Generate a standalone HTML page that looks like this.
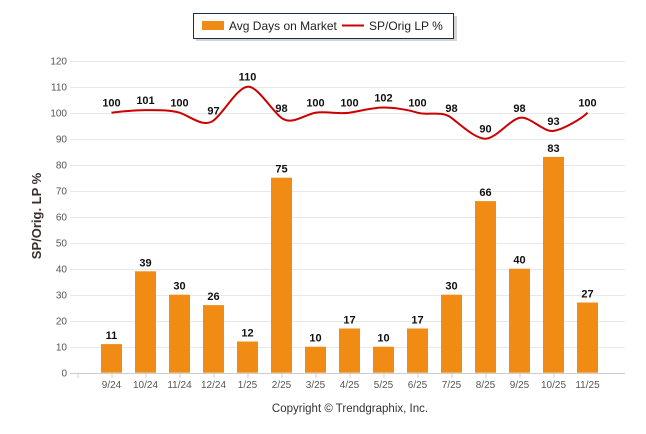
<!DOCTYPE html>
<html><head><meta charset="utf-8"><style>
body{margin:0;background:#fff;font-family:"Liberation Sans",Arial,sans-serif}
svg{display:block}
</style></head><body>
<svg id="c" width="646" height="434">
<g>
<rect x="196" y="16" width="261" height="25" fill="#aaa" opacity="0.5"/>
<rect x="193.5" y="13.5" width="260" height="25" fill="#fff" stroke="#1f2a4f" stroke-width="1"/>
<rect x="202" y="21" width="22" height="9" fill="#f08c14"/>
<text x="229" y="30" font-size="12" fill="#222">Avg Days on Market</text>
<line x1="342" y1="25.5" x2="364" y2="25.5" stroke="#cc0000" stroke-width="2"/>
<text x="369" y="30" font-size="12" fill="#222">SP/Orig LP %</text>
</g>
<text transform="translate(41,216) rotate(-90)" text-anchor="middle" font-size="13" font-weight="bold" fill="#3a3030">SP/Orig. LP %</text>
<text x="350" y="412" text-anchor="middle" font-size="11.5" fill="#333">Copyright © Trendgraphix, Inc.</text>
<g id="grid"></g><g id="bars"></g><g id="line"></g><g id="labels"></g>
</svg>
<script>
const categories=["9/24","10/24","11/24","12/24","1/25","2/25","3/25","4/25","5/25","6/25","7/25","8/25","9/25","10/25","11/25"];
const days=[11,39,30,26,12,75,10,17,10,17,30,66,40,83,27];
const spOrig=[100,101,100,97,110,98,100,100,102,100,98,90,98,93,100];
const yTicks=[0,10,20,30,40,50,60,70,80,90,100,110,120];
const NS="http://www.w3.org/2000/svg";
const y0=372.7,ppu=2.6,x0=111.5,step=34,left=70,right=625;
const y=v=>y0-v*ppu, x=i=>x0+i*step;
function mk(tag,attrs,parent,txt){const e=document.createElementNS(NS,tag);for(const k in attrs)e.setAttribute(k,attrs[k]);if(txt!==undefined)e.textContent=txt;document.getElementById(parent).appendChild(e);return e;}
yTicks.forEach(t=>{
 const g=mk('line',{x1:left,x2:right,y1:Math.round(y(t))+0.5,y2:Math.round(y(t))+0.5,stroke:t===0?'#ccc':'#e8e8e8'},'grid');
 
 
 const l=mk('text',{x:67,y:y(t)+4,'text-anchor':'end','font-size':10,fill:'#555'},'grid',t);
 
 
});
categories.forEach((c,i)=>{
 const tk=mk('line',{x1:x(i)-33.5,x2:x(i)-33.5,y1:y0,y2:y0+5,stroke:'#ccc'},'grid');
 
 
 const t=mk('text',{x:x(i),y:388,'text-anchor':'middle','font-size':10,fill:'#555'},'grid',c);
 
 
 const b=mk('rect',{x:x(i)-10.5,y:y(days[i]),width:21,height:days[i]*ppu,fill:'#f08c14'},'bars');
 
 
 const bl=mk('text',{x:x(i),y:y(days[i])-5,'text-anchor':'middle','font-size':11,'font-weight':'bold',fill:'#111'},'labels',days[i]);
 
 
 const ll=mk('text',{x:x(i),y:y(spOrig[i])-6,'text-anchor':'middle','font-size':11,'font-weight':'bold',fill:'#111'},'labels',spOrig[i]);
 
 
});
const pts=spOrig.map((v,i)=>[x(i),y(v)]);
let d='M'+pts[0][0]+','+pts[0][1];
for(let i=0;i<pts.length-1;i++){
 const p0=pts[Math.max(0,i-1)],p1=pts[i],p2=pts[i+1],p3=pts[Math.min(pts.length-1,i+2)];
 const k=0.3;
 d+=` C${p1[0]+(p2[0]-p0[0])*k/2},${p1[1]+(p2[1]-p0[1])*k},${p2[0]-(p3[0]-p1[0])*k/2},${p2[1]-(p3[1]-p1[1])*k},${p2[0]},${p2[1]}`;
}
const ln=mk('path',{d:d,fill:'none',stroke:'#cc0000','stroke-width':2},'line');


</script>
</body></html>
